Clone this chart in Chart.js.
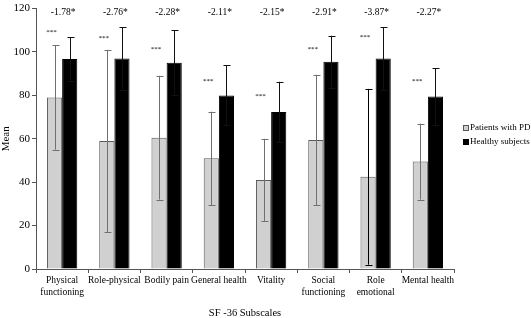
<!DOCTYPE html>
<html>
<head>
<meta charset="utf-8">
<script src="https://cdn.jsdelivr.net/npm/chart.js@4/dist/chart.umd.min.js"></script>
<style>
  body { margin: 0; background: #fff; }
  #wrap { width: 531px; height: 318px; }
</style>
</head>
<body>
<div id="wrap"><canvas id="chart" width="531" height="318"></canvas></div>
<script>
// values
const subscales = [
  ['Physical', 'functioning'], 'Role-physical', 'Bodily pain', 'General health',
  'Vitality', ['Social', 'functioning'], ['Role', 'emotional'], 'Mental health'
];
const seriesNames = ['Patients with PD', 'Healthy subjects'];
const patientMean = [79, 59, 60.5, 51, 41, 59.5, 42.5, 49.5];
const patientSD   = [24, 42, 28.5, 21.5, 19, 30, 40.5, 17.5];
const healthyMean = [96.8, 97, 95, 80, 72.3, 95.5, 97, 79.5];
const healthySD   = [10, 14.3, 15, 13.8, 14, 12, 14.4, 13];
const zScores     = ['-1.78*', '-2.76*', '-2.28*', '-2.11*', '-2.15*', '-2.91*', '-3.87*', '-2.27*'];
const starLevel   = [109, 106.5, 101.5, 86.5, 79.5, 101.5, 107, 86.5];
const yTicks      = [0, 20, 40, 60, 80, 100, 120];

const SERIF = '"Liberation Serif", "Times New Roman", serif';
const grayFill = '#d0d0d0';
// whisker colour for the patient bars (the role emotional one is drawn black)
const patientWhisker = ['#707070', '#707070', '#707070', '#707070', '#707070', '#707070', '#000', '#707070'];

const extras = {
  id: 'extras',
  afterDatasetsDraw(chart) {
    const ctx = chart.ctx;
    const y = chart.scales.y;
    const x = chart.scales.x;
    const sds = [patientSD, healthySD];
    ctx.save();
    chart.data.datasets.forEach((ds, di) => {
      const meta = chart.getDatasetMeta(di);
      meta.data.forEach((bar, i) => {
        const top = y.getPixelForValue(ds.data[i] + sds[di][i]);
        const bot = y.getPixelForValue(ds.data[i] - sds[di][i]);
        ctx.strokeStyle = di === 0 ? patientWhisker[i] : '#111';
        ctx.lineWidth = 1;
        const cx = Math.round(bar.x) + 0.5;
        ctx.beginPath();
        ctx.moveTo(cx, top); ctx.lineTo(cx, bot);
        ctx.moveTo(cx - 3, Math.round(top) + 0.5); ctx.lineTo(cx + 4, Math.round(top) + 0.5);
        ctx.moveTo(cx - 3, Math.round(bot) + 0.5); ctx.lineTo(cx + 4, Math.round(bot) + 0.5);
        ctx.stroke();
      });
    });

    // z scores above each pair and the *** marks above the patient bars
    ctx.fillStyle = '#000';
    ctx.textAlign = 'center';
    ctx.textBaseline = 'middle';
    const pMeta = chart.getDatasetMeta(0);
    subscales.forEach((s, i) => {
      ctx.font = '9.5px ' + SERIF;
      ctx.fillText(zScores[i], x.getPixelForValue(i) + 1, y.getPixelForValue(118));
      ctx.font = '7px ' + SERIF;
      ctx.fillText('***', pMeta.data[i].x - 3, y.getPixelForValue(starLevel[i]));
    });

    // legend
    const lx = 463;
    const ly = [128, 142];
    ctx.textAlign = 'left';
    ctx.font = '9px ' + SERIF;
    chart.data.datasets.forEach((ds, di) => {
      ctx.fillStyle = ds.backgroundColor;
      ctx.fillRect(lx, ly[di] - 3, 6, 6);
      ctx.strokeStyle = di === 0 ? '#555' : '#000';
      ctx.strokeRect(lx + 0.5, ly[di] - 2.5, 5, 5);
      ctx.fillStyle = '#000';
      ctx.fillText(ds.label, lx + 7, ly[di]);
    });
    ctx.restore();
  }
};

new Chart(document.getElementById('chart'), {
  type: 'bar',
  data: {
    labels: subscales,
    datasets: [
      { label: seriesNames[0], data: patientMean, backgroundColor: grayFill, borderColor: '#5a5a5a', borderWidth: 1 },
      { label: seriesNames[1], data: healthyMean, backgroundColor: '#000', borderColor: '#000', borderWidth: 1 }
    ]
  },
  options: {
    responsive: false,
    animation: false,
    devicePixelRatio: 1,
    categoryPercentage: 0.58,
    barPercentage: 1,
    layout: { padding: { top: 0, right: 77, left: 0, bottom: 0 } },
    plugins: { legend: { display: false }, tooltip: { enabled: false } },
    scales: {
      x: {
        offset: true,
        grid: { offset: true, drawOnChartArea: false, tickLength: 4, color: '#555' },
        border: { color: '#555' },
        ticks: { font: { family: SERIF, size: 9.5 }, color: '#000', padding: 2, maxRotation: 0, autoSkip: false },
        title: { display: true, text: 'SF -36 Subscales', font: { family: SERIF, size: 10.5 }, color: '#000', padding: { top: 0, bottom: -2 } },
        afterFit(scale) { scale.height = 49; }
      },
      y: {
        min: 0, max: 120,
        afterBuildTicks(scale) { scale.ticks = yTicks.map(v => ({ value: v })); },
        grid: { drawOnChartArea: false, tickLength: 4, color: '#555' },
        border: { color: '#555' },
        ticks: { font: { family: SERIF, size: 11 }, color: '#000', padding: 2 },
        title: { display: true, text: 'Mean', font: { family: SERIF, size: 11 }, color: '#000', padding: 0 },
        afterFit(scale) { scale.width = 36; }
      }
    }
  },
  plugins: [extras]
});
</script>
</body>
</html>
